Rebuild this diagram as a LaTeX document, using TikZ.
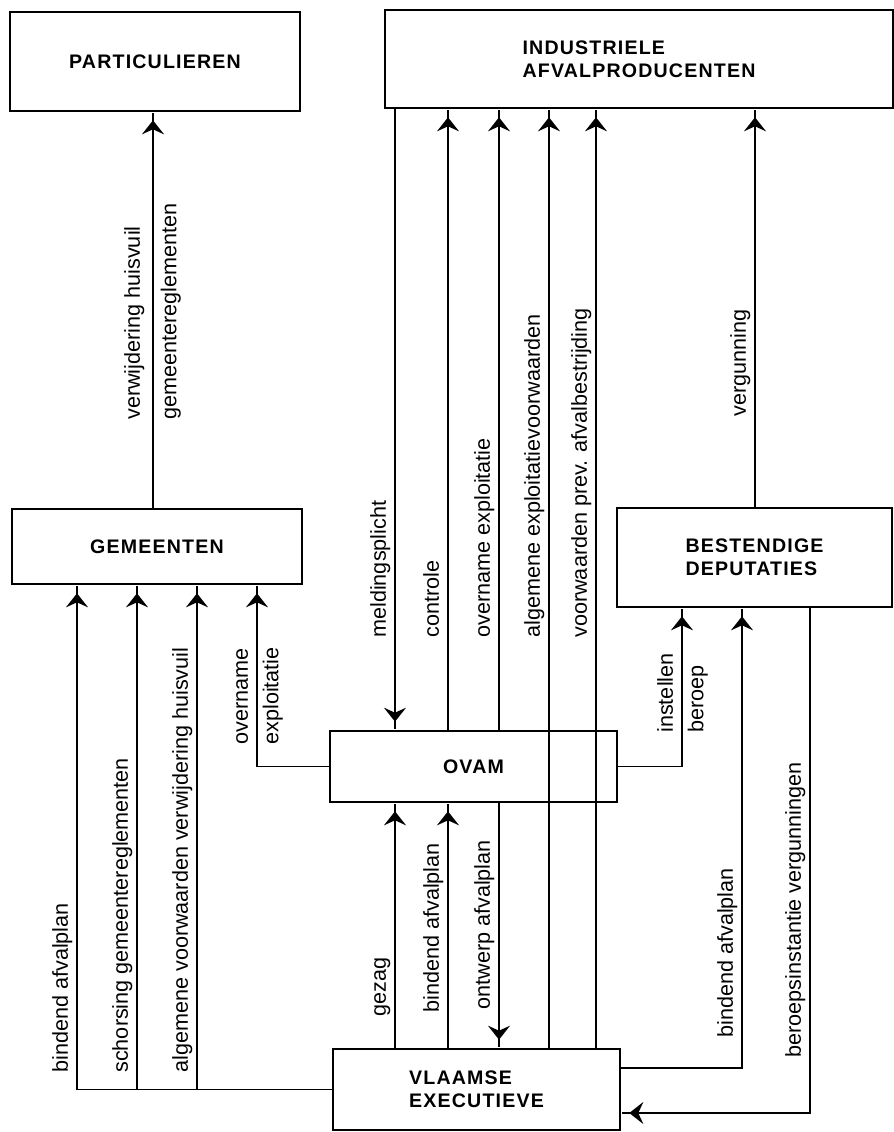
\documentclass[tikz,border=0pt]{standalone}
\usepackage{fontspec}
\setmainfont{Liberation Sans}
\newfontfamily\boxfont[LetterSpace=6]{Liberation Sans}
\usetikzlibrary{arrows.meta}

\begin{document}
\begin{tikzpicture}[x=0.5pt, y=-0.5pt,
    box/.style={draw, line width=1.3pt, inner sep=0pt, align=left,
      font=\boxfont\bfseries\fontsize{9.8}{11.5}\selectfont},
    conn/.style={line width=0.85pt},
    arr/.style={conn, -{Stealth[length=7pt, width=11pt, inset=2.5pt, sep=0pt] Rectangle[length=4pt, width=0.85pt]}},
    lab/.style={rotate=90, inner sep=2pt, text height=1.6ex, text depth=.45ex,
      font=\fontsize{10.8}{13}\selectfont},
    labl/.style={lab, anchor=south west},
    labr/.style={lab, anchor=north west}]

    \useasboundingbox (0, 0) rectangle (894, 1132);

    \node [box, minimum width=145pt, minimum height=49.5pt] (part) at (155, 61.5) {PARTICULIEREN};
    \node [box, minimum width=254pt, minimum height=49pt] (ind) at (639, 59) {INDUSTRIELE\\AFVALPRODUCENTEN};
    \node [box, minimum width=145pt, minimum height=37.5pt] (gem) at (157, 546.5) {GEMEENTEN};
    \node [box, minimum width=137.5pt, minimum height=49.5pt] (best) at (754.5, 557.5) {BESTENDIGE\\DEPUTATIES};
    \node [box, minimum width=143.5pt, minimum height=35.5pt] (ovam) at (473.5, 766.5) {OVAM};
    \node [box, minimum width=143.5pt, minimum height=40.5pt] (vla) at (476.5, 1089.5) {VLAAMSE\\EXECUTIEVE};

    \coordinate (lp) at (153, 0);
    \coordinate (l1) at (395, 0);
    \coordinate (l2) at (448, 0);
    \coordinate (l3) at (499, 0);
    \coordinate (l4) at (549, 0);
    \coordinate (l5) at (596, 0);
    \coordinate (l6) at (755, 0);
    \coordinate (g1) at (77, 0);
    \coordinate (g2) at (137, 0);
    \coordinate (g3) at (197, 0);
    \coordinate (g4) at (257, 0);
    \coordinate (b1) at (682, 0);
    \coordinate (b2) at (742, 1068);
    \coordinate (b3) at (810, 1113);

    \draw [arr] (lp |- gem.north) to (lp |- part.south);
    \draw [arr] (l1 |- ind.south) to (l1 |- ovam.north);
    \foreach \l in {l2, l3}
    {
      \draw [arr] (\l |- ovam.north) to (\l |- ind.south);
    }
    \foreach \l in {l4, l5}
    {
      \draw [arr] (\l |- vla.north) to (\l |- ind.south);
    }
    \draw [arr] (l6 |- best.north) to (l6 |- ind.south);

    \foreach \l in {l1, l2}
    {
      \draw [arr] (\l |- vla.north) to (\l |- ovam.south);
    }
    \draw [arr] (l3 |- ovam.south) to (l3 |- vla.north);

    \draw [arr] (vla.west) -| (g1 |- gem.south);
    \foreach \g in {g2, g3}
    {
      \draw [arr] (\g |- vla.west) to (\g |- gem.south);
    }
    \draw [arr] (ovam.west) -| (g4 |- gem.south);

    \draw [arr] (ovam.east) -| (b1 |- best.south);
    \draw [arr] (vla.east |- b2) -| (b2 |- best.south);
    \draw [arr] (b3 |- best.south) |- (vla.east |- b3);

    \node [labl, inner sep=4pt] (t1) at (153, 428) {verwijdering huisvuil};
    \node [labr, inner sep=3pt] (t2) at (153, 426) {gemeentereglementen};
    \node [labl] (t3) at (395, 642) {meldingsplicht};
    \node [labl] (t4) at (448, 642) {controle};
    \node [labl] (t5) at (499, 642) {overname exploitatie};
    \node [labl] (t6) at (549, 642) {algemene exploitatievoorwaarden};
    \node [labl] (t7) at (596, 642) {voorwaarden prev. afvalbestrijding};
    \node [labl] (t8) at (755, 421) {vergunning};
    \node [labl] (t9) at (77, 1077) {bindend afvalplan};
    \node [labl] (t10) at (137, 1077) {schorsing gemeentereglementen};
    \node [labl] (t11) at (197, 1077) {algemene voorwaarden verwijdering huisvuil};
    \node [labl] (t12) at (257, 749) {overname};
    \node [labr] (t13) at (257, 749) {exploitatie};
    \node [labl] (t14) at (395, 1021) {gezag};
    \node [labl] (t15) at (448, 1017) {bindend afvalplan};
    \node [labl] (t16) at (499, 1014) {ontwerp afvalplan};
    \node [labl] (t17) at (682, 737) {instellen};
    \node [labr] (t18) at (682, 737) {beroep};
    \node [labl] (t19) at (742, 1042) {bindend afvalplan};
    \node [labl] (t20) at (810, 1062) {beroepsinstantie vergunningen};

  \end{tikzpicture}
\end{document}
